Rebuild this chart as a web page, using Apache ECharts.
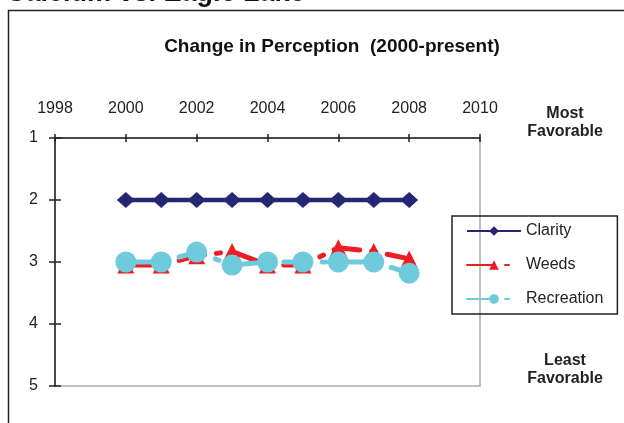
<!DOCTYPE html>
<html lang="en">
<head>
  <meta charset="UTF-8">
  <title>Change in Perception</title>
  <style>
    html, body { margin: 0; padding: 0; background: #fff; }
    #chart { width: 624px; height: 423px; }
  </style>
</head>
<body>
  <div id="chart"></div>
  <script src="https://cdn.jsdelivr.net/npm/echarts@6/dist/echarts.min.js"></script>
  <script>
    // data
    const years = [2000, 2001, 2002, 2003, 2004, 2005, 2006, 2007, 2008];
    const clarity = [2, 2, 2, 2, 2, 2, 2, 2, 2];
    const weeds = [3.05, 3.05, 2.9, 2.83, 3.05, 3.05, 2.77, 2.83, 2.95];
    const recreation = [3, 3, 2.84, 3.05, 3, 3, 3, 3, 3.18];

    const pairs = vals => years.map((y, i) => [y, vals[i]]);
    const font = 'Arial, "Liberation Sans", sans-serif';
    const dashDot = [26, 12, 4, 12];

    const chart = echarts.init(document.getElementById('chart'));
    chart.setOption({
      animation: false,
      textStyle: { fontFamily: font },
      title: {
        text: 'Change in Perception  (2000-present)',
        left: 327,
        textAlign: 'center',
        top: 32,
        textStyle: { fontSize: 19, fontWeight: 'bold', color: '#111', fontFamily: font }
      },
      grid: {
        left: 55, right: 144, top: 138, bottom: 37,
        show: true, borderColor: '#aaa', borderWidth: 1.5
      },
      legend: {
        orient: 'vertical',
        left: 452, top: 216,
        padding: [7, 14, 7, 14],
        borderColor: '#222', borderWidth: 1.5,
        itemWidth: 54, itemHeight: 12, itemGap: 18,
        textStyle: { fontSize: 16, color: '#222', fontFamily: font }
      },
      xAxis: [
        {
          type: 'value', position: 'top', min: 1998, max: 2010, interval: 2,
          axisLine: { lineStyle: { color: '#222', width: 1.5 } },
          axisTick: { length: 4, lineStyle: { color: '#222', width: 1.5 } },
          axisLabel: { fontSize: 16, color: '#222', margin: 21, formatter: v => String(v) },
          splitLine: { show: false }
        },
        {
          type: 'value', position: 'top', min: 1998, max: 2010, interval: 2,
          axisLine: { show: false },
          axisTick: { inside: true, length: 4, lineStyle: { color: '#222', width: 1.5 } },
          axisLabel: { show: false },
          splitLine: { show: false }
        }
      ],
      yAxis: [
        {
          type: 'value', inverse: true, min: 1, max: 5, interval: 1,
          axisLine: { show: true, lineStyle: { color: '#222', width: 1.5 } },
          axisTick: { show: true, length: 6, lineStyle: { color: '#222', width: 1.5 } },
          axisLabel: { fontSize: 16, color: '#222', margin: 17 },
          splitLine: { show: false }
        },
        {
          type: 'value', position: 'left', inverse: true, min: 1, max: 5, interval: 1,
          axisLine: { show: false },
          axisTick: { show: true, inside: true, length: 6, lineStyle: { color: '#222', width: 1.5 } },
          axisLabel: { show: false },
          splitLine: { show: false }
        }
      ],
      series: [
        {
          name: 'Clarity', type: 'line', data: pairs(clarity),
          symbol: 'diamond', symbolSize: [18, 16],
          itemStyle: { color: '#262673' },
          lineStyle: { color: '#262673', width: 4.5 }
        },
        {
          name: 'Weeds', type: 'line', data: pairs(weeds),
          symbol: 'triangle', symbolSize: 17,
          itemStyle: { color: '#ee1d23' },
          lineStyle: { color: '#ee1d23', width: 5, type: dashDot, cap: 'round' }
        },
        {
          name: 'Recreation', type: 'line', data: pairs(recreation),
          symbol: 'circle', symbolSize: 21,
          itemStyle: { color: '#6fcbdc' },
          lineStyle: { color: '#6fcbdc', width: 5, type: dashDot, cap: 'round' }
        }
      ],
      graphic: [
        {
          type: 'rect', silent: true, z: -1,
          shape: { x: 8.5, y: 10.5, width: 700, height: 500 },
          style: { fill: 'none', stroke: '#222', lineWidth: 1.5 }
        },
        {
          type: 'text', x: 6, y: -20,
          style: { text: 'Calcium vs. Eagle Lake', font: 'bold 27px ' + font, fill: '#111' }
        },
        {
          type: 'text', x: 565, y: 105,
          style: { text: 'Most\nFavorable', textAlign: 'center', font: 'bold 16px ' + font, lineHeight: 18, fill: '#222' }
        },
        {
          type: 'text', x: 565, y: 352,
          style: { text: 'Least\nFavorable', textAlign: 'center', font: 'bold 16px ' + font, lineHeight: 18, fill: '#222' }
        }
      ]
    });
  </script>
</body>
</html>
